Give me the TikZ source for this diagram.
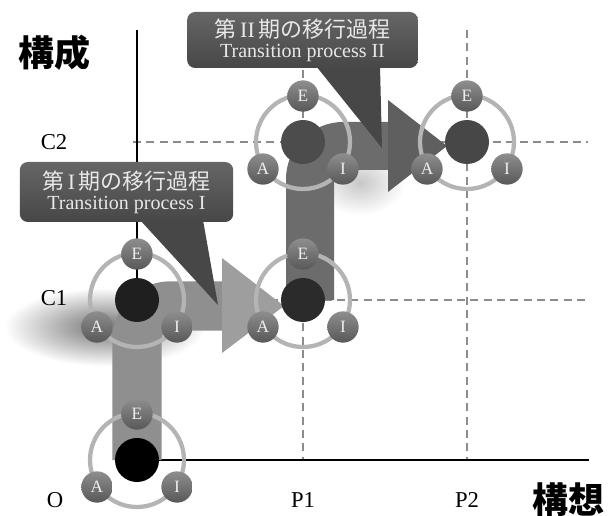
\documentclass[tikz,border=0pt]{standalone}
\usepackage{fontspec}
\setmainfont{Liberation Serif}
\newfontfamily\jp{Noto Sans CJK JP}
\usetikzlibrary{fadings}
\tikzfading[name=softblob, inner color=transparent!0, outer color=transparent!100]
\definecolor{ringc}{HTML}{B4B4B4}
\definecolor{gridc}{HTML}{8C8C8C}
\definecolor{satT}{HTML}{8E8E8E}
\definecolor{satB}{HTML}{585858}
\definecolor{satText}{HTML}{EEEEEE}
\definecolor{bandA}{HTML}{8F8F8F}
\definecolor{headA}{HTML}{9E9E9E}
\definecolor{bandB}{HTML}{6C6C6C}
\definecolor{headB}{HTML}{5F5F5F}
\definecolor{bubT}{HTML}{666666}
\definecolor{bubB}{HTML}{474747}
\definecolor{bubText}{HTML}{E8E8E8}
\tikzset{
  gridline/.style={draw=gridc, line width=1.1pt, dash pattern=on 6pt off 4pt},
  axisline/.style={draw=black, line width=1.3pt},
  ring/.style={draw=ringc, line width=3.2pt},
  hub/.style={circle, minimum size=33pt, inner sep=0pt},
  sat/.style={circle, minimum size=23.5pt, inner sep=0pt, top color=satT, bottom color=satB, text=satText, font=\fontsize{13}{13}\selectfont},
  lbl/.style={font=\fontsize{17}{17}\selectfont, inner sep=0pt},
  kanji/.style={font=\jp\bfseries\fontsize{27}{27}\selectfont, inner sep=0pt},
  bubble/.style={top color=bubT, bottom color=bubB, rounded corners=6pt, text=bubText, align=center, inner sep=0pt},
  pics/eai/.style={code={
    \draw[ring] (0,0) circle[radius=47];
    \node[hub, fill=#1] (-c) at (0,0) {};
    \node[sat] (-E) at (0,-46) {E};
    \node[sat] (-A) at (-40,27) {A};
    \node[sat] (-I) at (40,27) {I};
  }}
}
\begin{document}
\begin{tikzpicture}[x=0.75pt,y=-0.75pt]
\useasboundingbox (0,0) rectangle (616,516);
% key points
\coordinate (pO) at (137,460);
\coordinate (pC1) at (137,300);
\coordinate (pC2) at (137,142);
\coordinate (qP1C1) at (303,300);
\coordinate (qP1C2) at (303,142);
\coordinate (qP2C2) at (467,142);
\coordinate (xend) at (589,460);
\coordinate (yend) at (137,30);
% grid
\draw[gridline] (133,142) -- (588,142);
\draw[gridline] (137,300) -- (588,300);
\draw[gridline] (303,70) -- (303,460);
\draw[gridline] (467,30) -- (467,460);
% axes
\draw[axisline] (yend) -- (pO) -- (xend);
% shadows
\fill[black!55, path fading=softblob] (5,288) rectangle (205,366);
\fill[black!22, path fading=softblob] (315,150) rectangle (405,215);
% arrow 1
\coordinate (a1b) at (222,306);
\coordinate (a1t) at (284,306);
\draw[draw=bandA, line width=37pt, rounded corners=25pt] (pO) -- (137,306) -- (a1b);
\fill[headA] (222,258) -- (a1t) -- (222,353) -- cycle;
% arrow 2
\coordinate (a2b) at (388,146);
\coordinate (a2t) at (447,146);
\draw[draw=bandB, line width=36pt, rounded corners=25pt] (310,300) -- (310,146) -- (a2b);
\fill[headB] (388,100) -- (a2t) -- (388,192) -- cycle;
% clusters
\pic (O) at (pO) {eai=black};
\pic (C1) at (pC1) {eai={black!88}};
\pic (PA) at (qP1C1) {eai={black!83}};
\pic (PB) at (qP1C2) {eai={black!70}};
\pic (PC) at (qP2C2) {eai={black!72}};
% balloons
\coordinate (t1) at (218,305);
\fill[bubB] (140,220) -- (t1) -- (203,220) -- cycle;
\node[bubble, minimum width=160pt, minimum height=45pt] (b1) at (126.5,192)
  {{\fontsize{16.5}{18}\selectfont\jp 第\,{\rmfamily I}\,期の移行過程}\\[3pt]{\fontsize{15}{16}\selectfont Transition process I}};
\coordinate (t2) at (382,148);
\fill[bubB] (316,66) -- (t2) -- (380,66) -- cycle;
\node[bubble, minimum width=173pt, minimum height=42pt] (b2) at (302.5,40)
  {{\fontsize{16.5}{18}\selectfont\jp 第\,{\rmfamily II}\,期の移行過程}\\[3pt]{\fontsize{15}{16}\selectfont Transition process II}};
% labels
\node[kanji] (ky) at (54,53) {構成};
\node[kanji] (kx) at (568,500) {構想};
\node[lbl] (lC2) at (54,142) {C2};
\node[lbl] (lC1) at (54,298) {C1};
\node[lbl] (lO) at (55,500) {O};
\node[lbl] (lP1) at (303,500) {P1};
\node[lbl] (lP2) at (467,500) {P2};
\end{tikzpicture}
\end{document}
